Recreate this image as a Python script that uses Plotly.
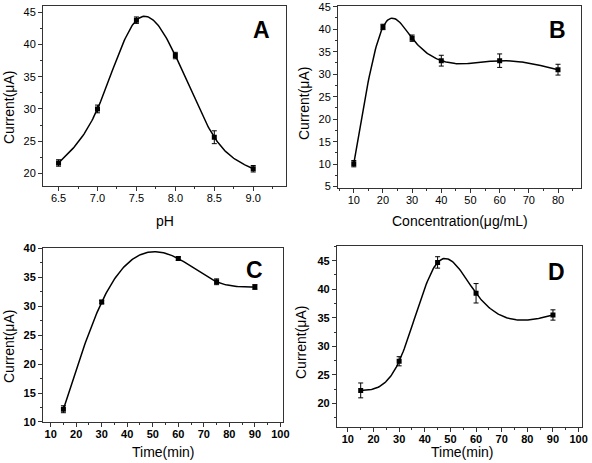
import numpy as np
import plotly.graph_objects as go

# Panel A: pH
ph = [6.5, 7.0, 7.5, 8.0, 8.5, 9.0]
current_a = [21.6, 30.0, 43.8, 38.3, 25.6, 20.7]
err_a = [0.5, 0.6, 0.5, 0.5, 1.0, 0.5]

# Panel B: concentration
conc = [10, 20, 30, 40, 60, 80]
current_b = [10.1, 40.5, 38.0, 33.0, 33.0, 31.0]
err_b = [0.7, 0.6, 0.7, 1.2, 1.5, 1.2]

# Panel C: time
time_c = [15, 30, 60, 75, 90]
current_c = [12.2, 30.7, 38.2, 34.2, 33.3]
err_c = [0.6, 0.3, 0.3, 0.5, 0.4]

# Panel D: time
time_d = [15, 30, 45, 60, 90]
current_d = [22.3, 27.4, 44.7, 39.3, 35.5]
err_d = [1.3, 0.8, 1.0, 1.7, 0.9]


def natural_spline(x, y, n=200):
    """Smooth connecting line (natural cubic spline) through the data points."""
    x = np.asarray(x, float)
    y = np.asarray(y, float)
    k = len(x)
    h = np.diff(x)
    A = np.zeros((k, k))
    r = np.zeros(k)
    A[0, 0] = A[-1, -1] = 1
    for i in range(1, k - 1):
        A[i, i - 1] = h[i - 1]
        A[i, i] = 2 * (h[i - 1] + h[i])
        A[i, i + 1] = h[i]
        r[i] = 6 * ((y[i + 1] - y[i]) / h[i] - (y[i] - y[i - 1]) / h[i - 1])
    M = np.linalg.solve(A, r)
    xs = np.linspace(x[0], x[-1], n)
    idx = np.clip(np.searchsorted(x, xs) - 1, 0, k - 2)
    x0, x1 = x[idx], x[idx + 1]
    hh = x1 - x0
    a = (x1 - xs) / hh
    b = (xs - x0) / hh
    ys = (a * y[idx] + b * y[idx + 1]
          + ((a ** 3 - a) * M[idx] + (b ** 3 - b) * M[idx + 1]) * hh ** 2 / 6)
    return xs, ys


W, H = 592, 463
panels = [
    dict(x=ph, y=current_a, e=err_a, xt="pH", letter="A", bold=False, fmt=".1f",
         xdom=[0.0726, 0.483], ydom=[0.598, 0.987], xr=[6.3, 9.42], yr=[18.0, 46.0],
         xd=0.5, yd=5, xm=0.25, ym=2.5, lx=0.90, ly=0.867,
         xtp=(165, 221), ytp=(9, 108)),
    dict(x=conc, y=current_b, e=err_b, xt="Concentration(μg/mL)", letter="B", bold=False, fmt="",
         xdom=[0.571, 0.981], ydom=[0.594, 0.987], xr=[4.6, 87.8], yr=[4.7, 45.15],
         xd=10, yd=5, xm=5, ym=2.5, lx=0.905, ly=0.868,
         xtp=(460, 221), ytp=(304, 104)),
    dict(x=time_c, y=current_c, e=err_c, xt="Time(min)", letter="C", bold=True, fmt="",
         xdom=[0.0726, 0.478], ydom=[0.0886, 0.464], xr=[7.0, 101.0], yr=[10, 40],
         xd=10, yd=5, xm=5, ym=2.5, lx=0.883, ly=0.874,
         xtp=(163, 452), ytp=(9, 347)),
    dict(x=time_d, y=current_d, e=err_d, xt="Time(min)", letter="D", bold=True, fmt="",
         xdom=[0.569, 0.983], ydom=[0.0778, 0.469], xr=[5.7, 101.3], yr=[15.9, 47.6],
         xd=10, yd=5, xm=5, ym=2.5, lx=0.897, ly=0.858,
         xtp=(462, 452), ytp=(301, 343)),
]

fig = go.Figure()
FONT = "Liberation Sans, Arial, sans-serif"
AX = "#333333"
TFONT = dict(family=FONT, size=14, color="black")

for i, p in enumerate(panels):
    n = "" if i == 0 else str(i + 1)
    xa, ya = "x" + n, "y" + n
    xs, ys = natural_spline(p["x"], p["y"])
    fig.add_trace(go.Scatter(
        x=xs, y=ys, mode="lines", xaxis=xa, yaxis=ya,
        line=dict(color="black", width=1.5), showlegend=False, hoverinfo="skip"))
    fig.add_trace(go.Scatter(
        x=p["x"], y=p["y"], mode="markers", xaxis=xa, yaxis=ya,
        marker=dict(symbol="square", size=5, color="black"),
        error_y=dict(type="data", array=p["e"], visible=True, color="black",
                     thickness=1, width=2.5),
        showlegend=False))
    tickfont = dict(family=FONT, size=11, color="black",
                    weight="bold" if p["bold"] else "normal")
    common = dict(showline=True, linecolor=AX, linewidth=1, mirror=True,
                  ticks="outside", ticklen=4, tickwidth=1, tickcolor=AX,
                  showgrid=False, zeroline=False, tickfont=tickfont, automargin=False,
                  minor=dict(ticks="outside", ticklen=2, tickcolor=AX, showgrid=False))
    fig.layout["xaxis" + n] = dict(
        common, domain=p["xdom"], range=p["xr"], anchor=ya, dtick=p["xd"],
        tick0=0, minor_dtick=p["xm"], tickformat=p["fmt"], ticklabelstandoff=-2)
    fig.layout["yaxis" + n] = dict(
        common, domain=p["ydom"], range=p["yr"], anchor=xa, dtick=p["yd"],
        tick0=0, minor_dtick=p["ym"])
    # axis titles
    fig.add_annotation(text=p["xt"], xref="paper", yref="paper",
                       x=p["xtp"][0] / W, y=1 - p["xtp"][1] / H, showarrow=False,
                       font=TFONT, xanchor="center", yanchor="middle")
    fig.add_annotation(text="Current(μA)", xref="paper", yref="paper", textangle=-90,
                       x=p["ytp"][0] / W, y=1 - p["ytp"][1] / H, showarrow=False,
                       font=TFONT, xanchor="center", yanchor="middle")
    fig.add_annotation(text="<b>%s</b>" % p["letter"], xref=xa + " domain", yref=ya + " domain",
                       x=p["lx"], y=p["ly"], showarrow=False,
                       font=dict(family=FONT, size=23, color="black"),
                       xanchor="center", yanchor="middle")

fig.update_layout(width=W, height=H, margin=dict(l=0, r=0, t=0, b=0),
                  paper_bgcolor="white", plot_bgcolor="white")
fig.write_html("out.html", config={"displayModeBar": False},
               post_script="document.body.style.margin='0';document.body.style.padding='0';")
